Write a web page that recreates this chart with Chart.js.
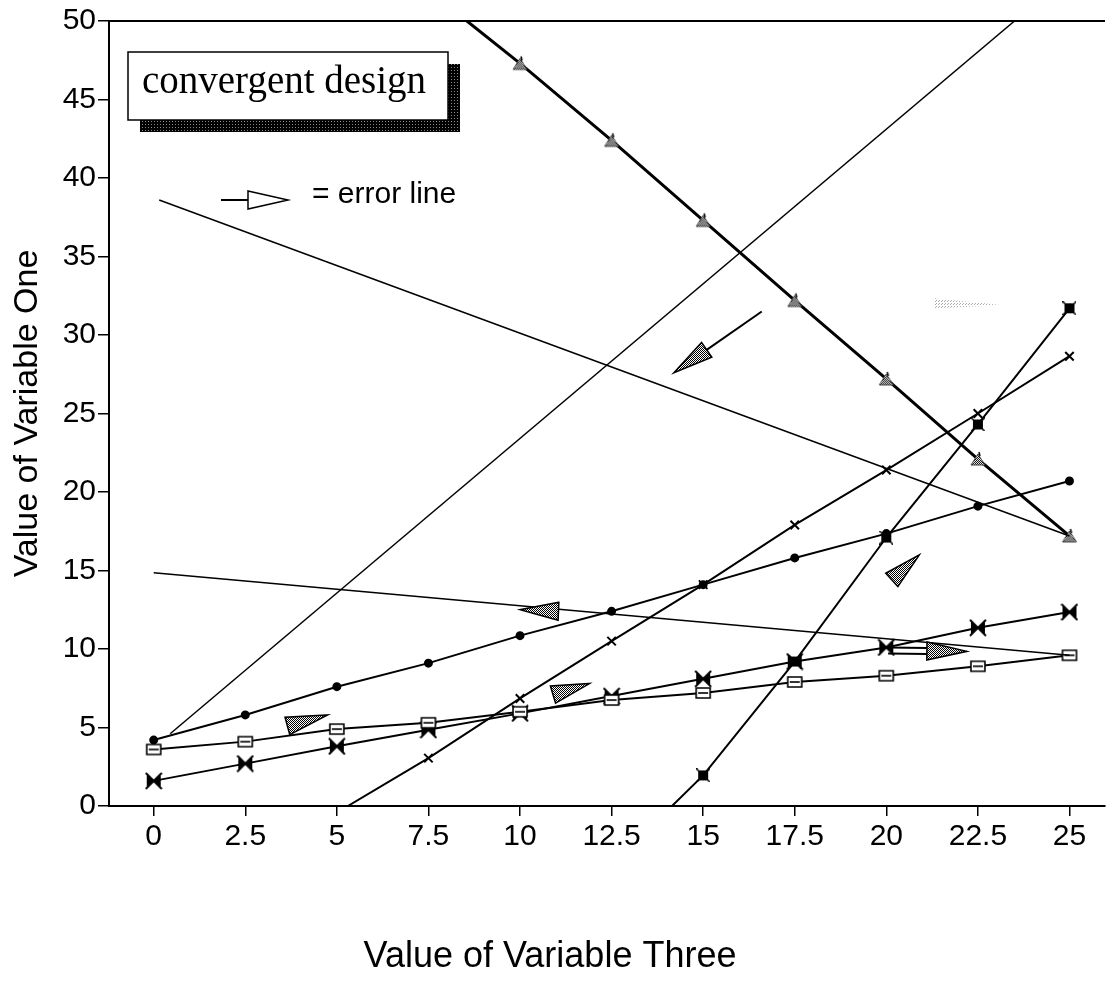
<!DOCTYPE html>
<html>
<head>
<meta charset="utf-8">
<script src="https://cdn.jsdelivr.net/npm/chart.js@4/dist/chart.umd.min.js"></script>
<style>
html, body { margin: 0; padding: 0; background: #fff; }
#wrap { width: 1114px; height: 982px; position: relative; }
</style>
</head>
<body>
<div id="wrap"><canvas id="chart"></canvas></div>
<script>
// tick labels
var xTicks = [0, 2.5, 5, 7.5, 10, 12.5, 15, 17.5, 20, 22.5, 25];
var yTicks = [0, 5, 10, 15, 20, 25, 30, 35, 40, 45, 50];

// marker series, one value per x tick
var circleValues = [4.2, 5.8, 7.6, 9.1, 10.85, 12.4, 14.1, 15.8, 17.35, 19.1, 20.7];
var squareValues = [3.6, 4.1, 4.9, 5.3, 6.0, 6.75, 7.2, 7.9, 8.3, 8.9, 9.6];
var bowtieValues = [1.6, 2.7, 3.8, 4.85, 5.9, 7.0, 8.1, 9.2, 10.1, 11.35, 12.35];

// x-marked line (starts on the axis)
var crossX = [5.3, 7.5, 10, 12.5, 15, 17.5, 20, 22.5, 25];
var crossY = [0, 3.05, 6.85, 10.5, 14.1, 17.9, 21.4, 25.0, 28.65];

// steep line with filled squares
var steepX = [14.15, 15, 17.5, 20, 22.5, 25];
var steepY = [0, 1.95, 9.2, 17.1, 24.3, 31.7];

// falling line with shaded triangles
var triX = [8.55, 10, 12.5, 15, 17.5, 20, 22.5, 25];
var triY = [50, 47.3, 42.4, 37.3, 32.2, 27.2, 22.1, 17.2];

// plain lines
var riseX = [0.45, 23.5], riseY = [4.6, 50];
var fallHighX = [0.15, 25], fallHighY = [38.6, 17.2];
var fallLowX = [0, 25], fallLowY = [14.85, 9.6];

// error lines, tail -> tip
var errTailX = [16.6, 11.05, 3.65, 10.9, 20.15, 20.05];
var errTailY = [31.5, 12.4, 5.1, 7.1, 14.4, 9.9];
var errTipX  = [14.2, 10.0, 4.75, 11.9, 20.9, 22.2];
var errTipY  = [27.6, 12.5, 5.8, 7.8, 16.0, 9.85];
var errShaft = ['line', 'none', 'none', 'none', 'none', 'hollow'];

// faint smudge near the top right
var ghostX = [21.3, 23.2], ghostY = [31.9, 31.9];

function pairs(xs, ys) {
	return xs.map(function(x, i) { return {x: x, y: ys[i]}; });
}

function makeCanvas(w, h, draw) {
	var c = document.createElement('canvas');
	c.width = w; c.height = h;
	draw(c.getContext('2d'));
	return c;
}

var dots = makeCanvas(2, 2, function(g) {
	g.fillStyle = '#fff'; g.fillRect(0, 0, 2, 2);
	g.fillStyle = '#000'; g.fillRect(0, 0, 1, 1); g.fillRect(1, 1, 1, 1);
});
var darkDots = makeCanvas(3, 3, function(g) {
	g.fillStyle = '#000'; g.fillRect(0, 0, 3, 3);
	g.fillStyle = '#888'; g.fillRect(1, 1, 1, 1);
});
var faintDots = makeCanvas(3, 3, function(g) {
	g.fillStyle = 'rgba(0,0,0,0)'; g.fillRect(0, 0, 3, 3);
	g.fillStyle = '#aaa'; g.fillRect(0, 0, 1, 1); g.fillRect(2, 1, 1, 1);
});

var bowtie = makeCanvas(18, 18, function(g) {
	g.fillStyle = '#000';
	g.beginPath();
	g.moveTo(2, 2); g.lineTo(9, 9); g.lineTo(2, 16); g.closePath();
	g.moveTo(16, 2); g.lineTo(9, 9); g.lineTo(16, 16); g.closePath();
	g.fill();
	g.lineWidth = 2; g.strokeStyle = '#000';
	g.beginPath(); g.moveTo(1, 1); g.lineTo(17, 17); g.moveTo(17, 1); g.lineTo(1, 17); g.stroke();
});
var hollowSquare = makeCanvas(18, 14, function(g) {
	g.fillStyle = '#fff'; g.strokeStyle = '#000'; g.lineWidth = 1.6;
	g.beginPath(); g.rect(2, 2, 14, 10); g.fill(); g.stroke();
	g.beginPath(); g.moveTo(4, 7); g.lineTo(14, 7); g.stroke();
});
var solidSquare = makeCanvas(14, 14, function(g) {
	g.fillStyle = '#000'; g.fillRect(2, 2, 10, 10);
	g.strokeStyle = '#000'; g.lineWidth = 1.5;
	g.beginPath(); g.moveTo(0, 0); g.lineTo(14, 14); g.moveTo(14, 0); g.lineTo(0, 14); g.stroke();
});
var shadedTri = makeCanvas(18, 16, function(g) {
	g.fillStyle = g.createPattern(dots, 'repeat');
	g.strokeStyle = '#444'; g.lineWidth = 1;
	g.beginPath(); g.moveTo(2, 14); g.lineTo(9, 3); g.lineTo(16, 14); g.closePath();
	g.fill(); g.stroke();
	g.strokeStyle = '#000'; g.lineWidth = 1.5;
	g.beginPath(); g.moveTo(10, 1); g.lineTo(11, 5); g.stroke();
});

function radii(n, first, r) {
	var out = [];
	for (var i = 0; i < n; i++) out.push(i === 0 ? first : r);
	return out;
}

var datasets = [
	{data: pairs(riseX, riseY), borderWidth: 1.5, pointRadius: 0},
	{data: pairs(fallHighX, fallHighY), borderWidth: 1.5, pointRadius: 0},
	{data: pairs(fallLowX, fallLowY), borderWidth: 1.5, pointRadius: 0},
	{data: pairs(triX, triY), borderWidth: 3, pointStyle: shadedTri, pointRadius: radii(triX.length, 0, 6)},
	{data: pairs(steepX, steepY), borderWidth: 2, pointStyle: solidSquare, pointRadius: radii(steepX.length, 0, 6)},
	{data: pairs(crossX, crossY), borderWidth: 2, pointStyle: 'crossRot', pointRadius: radii(crossX.length, 0, 6), pointBorderWidth: 2},
	{data: pairs(xTicks, circleValues), borderWidth: 2, pointStyle: 'circle', pointRadius: 3.5, pointBackgroundColor: '#000'},
	{data: pairs(xTicks, squareValues), borderWidth: 2, pointStyle: hollowSquare, pointRadius: 6},
	{data: pairs(xTicks, bowtieValues), borderWidth: 2, pointStyle: bowtie, pointRadius: 6}
];
datasets.forEach(function(d) {
	d.showLine = true;
	d.borderColor = '#000';
	d.tension = 0;
	if (!d.pointBackgroundColor) d.pointBackgroundColor = '#000';
	d.pointBorderColor = '#000';
});

function head(ctx, bx, by, tx, ty, halfW, fill) {
	var dx = tx - bx, dy = ty - by, len = Math.sqrt(dx * dx + dy * dy);
	var px = -dy / len * halfW, py = dx / len * halfW;
	ctx.beginPath();
	ctx.moveTo(bx + px, by + py);
	ctx.lineTo(tx, ty);
	ctx.lineTo(bx - px, by - py);
	ctx.closePath();
	ctx.fillStyle = fill;
	ctx.fill();
	ctx.stroke();
}

var decorations = {
	id: 'decorations',
	afterDatasetsDraw: function(chart) {
		var ctx = chart.ctx, xs = chart.scales.x, ys = chart.scales.y, a = chart.chartArea;
		var pat = ctx.createPattern(dots, 'repeat');
		ctx.save();

		// top frame line
		ctx.strokeStyle = '#000'; ctx.lineWidth = 2;
		ctx.beginPath(); ctx.moveTo(a.left, a.top); ctx.lineTo(a.right, a.top); ctx.stroke();

		// faint smudge
		ctx.fillStyle = ctx.createPattern(faintDots, 'repeat');
		ctx.beginPath();
		ctx.moveTo(xs.getPixelForValue(ghostX[0]), ys.getPixelForValue(ghostY[0]) + 3);
		ctx.lineTo(xs.getPixelForValue(ghostX[1]), ys.getPixelForValue(ghostY[1]));
		ctx.lineTo(xs.getPixelForValue(ghostX[0]), ys.getPixelForValue(ghostY[0]) - 7);
		ctx.closePath(); ctx.fill();

		// error lines
		ctx.lineWidth = 1.5; ctx.strokeStyle = '#000';
		for (var i = 0; i < errTipX.length; i++) {
			var sx = xs.getPixelForValue(errTailX[i]), sy = ys.getPixelForValue(errTailY[i]);
			var tx = xs.getPixelForValue(errTipX[i]), ty = ys.getPixelForValue(errTipY[i]);
			if (errShaft[i] === 'none') {
				head(ctx, sx, sy, tx, ty, 9, pat);
				continue;
			}
			var dx = tx - sx, dy = ty - sy, len = Math.sqrt(dx * dx + dy * dy);
			var ux = dx / len, uy = dy / len, L = 40;
			var bx = tx - ux * L, by = ty - uy * L;
			ctx.lineWidth = 2;
			if (errShaft[i] === 'hollow') {
				ctx.beginPath();
				ctx.moveTo(sx - uy * 3, sy + ux * 3); ctx.lineTo(bx - uy * 3, by + ux * 3);
				ctx.moveTo(sx + uy * 3, sy - ux * 3); ctx.lineTo(bx + uy * 3, by - ux * 3);
				ctx.stroke();
			} else {
				ctx.beginPath(); ctx.moveTo(sx, sy); ctx.lineTo(bx, by); ctx.stroke();
			}
			ctx.lineWidth = 1.5;
			head(ctx, bx, by, tx, ty, 9, pat);
		}

		// "convergent design" box with shadow
		ctx.fillStyle = ctx.createPattern(darkDots, 'repeat');
		ctx.fillRect(140, 64, 320, 68);
		ctx.fillStyle = '#fff'; ctx.strokeStyle = '#000'; ctx.lineWidth = 1.5;
		ctx.fillRect(128, 52, 320, 68);
		ctx.strokeRect(128, 52, 320, 68);
		ctx.fillStyle = '#000';
		ctx.font = '39px "Liberation Serif", "Times New Roman", serif';
		ctx.textBaseline = 'alphabetic';
		ctx.fillText('convergent design', 142, 93);

		// error line key
		ctx.lineWidth = 2;
		ctx.beginPath(); ctx.moveTo(221, 200); ctx.lineTo(248, 200); ctx.stroke();
		ctx.lineWidth = 1.5;
		ctx.beginPath(); ctx.moveTo(248, 191); ctx.lineTo(288, 200); ctx.lineTo(248, 209); ctx.closePath();
		ctx.fillStyle = '#fff'; ctx.fill(); ctx.stroke();
		ctx.fillStyle = '#000';
		ctx.font = '30px "Liberation Sans", Arial, sans-serif';
		ctx.fillText('= error line', 312, 203);

		// x axis title (sits left of the axis centre in the scan)
		ctx.font = '36px "Liberation Sans", Arial, sans-serif';
		ctx.textAlign = 'center';
		ctx.textBaseline = 'middle';
		ctx.fillText('Value of Variable Three', 550, 957);

		ctx.restore();
	}
};

var sans = '"Liberation Sans", Arial, Helvetica, sans-serif';

new Chart(document.getElementById('chart'), {
	type: 'scatter',
	data: {datasets: datasets},
	plugins: [decorations],
	options: {
		responsive: true,
		maintainAspectRatio: false,
		animation: false,
		devicePixelRatio: 1,
		layout: {padding: {top: 21, right: 0, left: 0, bottom: 0}},
		plugins: {legend: {display: false}, tooltip: {enabled: false}},
		scales: {
			x: {
				type: 'linear', min: -1.22, max: 25.97,
				afterBuildTicks: function(s) { s.ticks = xTicks.map(function(v) { return {value: v}; }); },
				afterFit: function(s) { s.height = 176; },
				grid: {drawOnChartArea: false, drawTicks: true, tickLength: 10, color: '#000', lineWidth: 1.5},
				border: {color: '#000', width: 2},
				ticks: {color: '#000', font: {family: sans, size: 30}, padding: 3, maxRotation: 0, autoSkip: false,
					callback: function(v) { return String(v); }},
				title: {display: false}
			},
			y: {
				type: 'linear', min: 0, max: 50,
				afterBuildTicks: function(s) { s.ticks = yTicks.map(function(v) { return {value: v}; }); },
				afterFit: function(s) { s.width = 109; },
				grid: {drawOnChartArea: false, drawTicks: true, tickLength: 11, color: '#000', lineWidth: 1.5},
				border: {color: '#000', width: 2},
				ticks: {color: '#000', font: {family: sans, size: 30}, padding: 2, autoSkip: false,
					callback: function(v) { return String(v); }},
				title: {display: true, text: 'Value of Variable One', color: '#000',
					font: {family: sans, size: 34, lineHeight: 1}, padding: {top: 11, bottom: 0}}
			}
		}
	}
});
</script>
</body>
</html>
